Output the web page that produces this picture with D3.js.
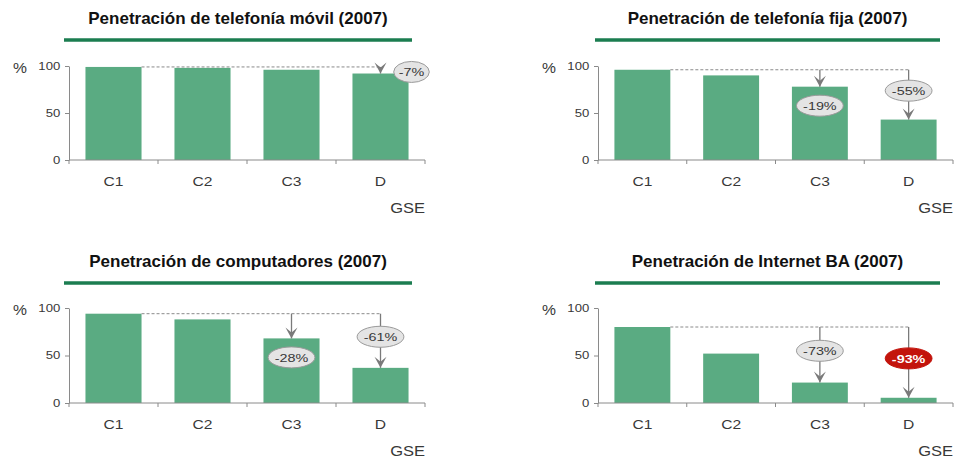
<!DOCTYPE html>
<html>
<head>
<meta charset="utf-8">
<script src="https://cdn.jsdelivr.net/npm/d3@7"></script>
<style>
  html, body { margin: 0; padding: 0; background: #fff; }
  svg { display: block; font-family: "Liberation Sans", Arial, sans-serif; }
</style>
</head>
<body>
<svg id="chart" width="959" height="461"></svg>
<script>
// Socioeconomic groups (GSE) on the x axis
const categories = ["C1", "C2", "C3", "D"];

// Panel titles
const titles = [
  "Penetración de telefonía móvil (2007)",
  "Penetración de telefonía fija (2007)",
  "Penetración de computadores (2007)",
  "Penetración de Internet BA (2007)"
];

// Penetration (%) by group, one array per panel
const movil        = [99, 98, 96, 92];
const fija         = [96, 90, 78, 43];
const computadores = [94, 88, 68, 37];
const internet     = [80, 52, 21.5, 5.5];

const yTicks = [0, 50, 100];

// Gap versus C1, per panel: category, label, bubble placement, highlighted
const gapsMovil        = [{ cat: "D",  label: "-7%",  place: "right",  alert: false }];
const gapsFija         = [{ cat: "C3", label: "-19%", place: "inside", alert: false },
                          { cat: "D",  label: "-55%", place: "mid",    alert: false }];
const gapsComputadores = [{ cat: "C3", label: "-28%", place: "inside", alert: false },
                          { cat: "D",  label: "-61%", place: "mid",    alert: false }];
const gapsInternet     = [{ cat: "C3", label: "-73%", place: "mid",    alert: false },
                          { cat: "D",  label: "-93%", place: "mid",    alert: true  }];

const series = [movil, fija, computadores, internet];
const gaps = [gapsMovil, gapsFija, gapsComputadores, gapsInternet];

// Panel frames: plot area corners and title rule
const frames = [
  { x0: 69,  x1: 425, yTop: 66,  yBase: 160, titleY: 24,  ruleY: 40,  ruleX0: 64,  ruleX1: 412 },
  { x0: 598, x1: 953, yTop: 66,  yBase: 160, titleY: 24,  ruleY: 40,  ruleX0: 595, ruleX1: 940 },
  { x0: 69,  x1: 425, yTop: 308, yBase: 403, titleY: 267, ruleY: 283, ruleX0: 64,  ruleX1: 412 },
  { x0: 598, x1: 953, yTop: 308, yBase: 403, titleY: 267, ruleY: 283, ruleX0: 595, ruleX1: 940 }
];

const BAR = "#5aab82";
const RULE = "#1b7d50";
const AXIS = "#8a8a8a";
const ARROW = "#7a7a7a";
const TEXT = "#383838";
const WIDE = 1.25;   // horizontal stretch of the small labels

const svg = d3.select("#chart");

// arrowhead pointing along +x, turned by orient="auto"
svg.append("defs").append("marker")
  .attr("id", "head")
  .attr("viewBox", "-12 -7 13 14")
  .attr("refX", 0).attr("refY", 0)
  .attr("markerWidth", 13).attr("markerHeight", 14)
  .attr("markerUnits", "userSpaceOnUse")
  .attr("orient", "auto")
  .append("path")
  .attr("d", "M0,0 L-11,-6 L-6,0 L-11,6 Z")
  .attr("fill", ARROW);

// text placed at (x, y) and widened horizontally by sx
function label(g, x, y, str, size, sx, anchor) {
  return g.append("text")
    .attr("transform", `translate(${x},${y}) scale(${sx},1)`)
    .attr("text-anchor", anchor || "middle")
    .attr("font-size", size)
    .attr("fill", TEXT)
    .text(str);
}

frames.forEach((f, i) => {
  const values = series[i];
  const g = svg.append("g");

  const x = d3.scaleBand().domain(categories).range([f.x0, f.x1]).paddingInner(0.37).paddingOuter(0.185);
  const xb = d3.scaleBand().domain(categories).range([f.x0, f.x1]);
  const y = d3.scaleLinear().domain([0, 100]).range([f.yBase, f.yTop]);

  // title and rule
  g.append("text")
    .attr("x", (f.ruleX0 + f.ruleX1) / 2).attr("y", f.titleY)
    .attr("text-anchor", "middle")
    .attr("font-size", 17).attr("font-weight", "bold").attr("fill", "#111")
    .text(titles[i]);
  g.append("line")
    .attr("x1", f.ruleX0).attr("x2", f.ruleX1)
    .attr("y1", f.ruleY).attr("y2", f.ruleY)
    .attr("stroke", RULE).attr("stroke-width", 3.5);

  // bars
  g.selectAll("rect.bar").data(values).join("rect")
    .attr("class", "bar")
    .attr("x", (d, j) => x(categories[j]))
    .attr("width", x.bandwidth())
    .attr("y", d => y(d))
    .attr("height", d => y(0) - y(d))
    .attr("fill", BAR);

  // y axis
  const ya = g.append("g")
    .attr("transform", `translate(${f.x0},0)`)
    .call(d3.axisLeft(y).tickValues(yTicks).tickSize(4).tickSizeOuter(0).tickPadding(3));
  ya.select(".domain").attr("stroke", AXIS);
  ya.selectAll(".tick line").attr("stroke", AXIS);
  ya.selectAll(".tick text")
    .attr("font-size", 10.5).attr("fill", TEXT)
    .attr("font-family", "Liberation Sans, Arial, sans-serif")
    .attr("transform", `scale(${WIDE},1)`);

  // x axis: baseline with ticks on the band boundaries
  g.append("line")
    .attr("x1", f.x0).attr("x2", f.x1)
    .attr("y1", y(0)).attr("y2", y(0))
    .attr("stroke", AXIS);
  const bounds = categories.map(c => xb(c)).concat([f.x1]);
  g.selectAll("line.xt").data(bounds).join("line")
    .attr("class", "xt")
    .attr("x1", d => d).attr("x2", d => d)
    .attr("y1", y(0)).attr("y2", y(0) + 4)
    .attr("stroke", AXIS);
  categories.forEach(c => label(g, x(c) + x.bandwidth() / 2, y(0) + 26, c, 12.5, WIDE));

  label(g, f.x0 - 49, y(100) + 7, "%", 14, 1.12);
  label(g, f.x1, y(0) + 53, "GSE", 14, 1.18, "end");

  // reference level (C1) and gap arrows
  const ref = values[0];
  const last = gaps[i][gaps[i].length - 1];
  g.append("line")
    .attr("x1", x(categories[0]) + x.bandwidth())
    .attr("x2", x(last.cat) + x.bandwidth() / 2)
    .attr("y1", y(ref)).attr("y2", y(ref))
    .attr("stroke", AXIS).attr("stroke-width", 1)
    .attr("stroke-dasharray", "3,2");

  gaps[i].forEach(a => {
    const j = categories.indexOf(a.cat);
    const cx = x(a.cat) + x.bandwidth() / 2;
    const yRef = y(ref), yBar = y(values[j]);
    g.append("line")
      .attr("x1", cx).attr("x2", cx)
      .attr("y1", yRef).attr("y2", yBar)
      .attr("stroke", ARROW).attr("stroke-width", 1.3)
      .attr("marker-end", "url(#head)");

    let bx = cx, by;
    if (a.place === "right") { bx = cx + 31; by = yRef + 5; }
    else if (a.place === "inside") { by = yBar + 19; }
    else { by = (yRef + yBar) / 2 - 4; }

    const rx = 5.6 * a.label.length + 1;
    g.append("ellipse")
      .attr("cx", bx).attr("cy", by)
      .attr("rx", rx).attr("ry", 10.5)
      .attr("fill", a.alert ? "#c3140c" : "#e4e4e4")
      .attr("stroke", a.alert ? "#c3140c" : "#9a9a9a").attr("stroke-width", 1);
    label(g, bx, by + 4.2, a.label, 11.5, WIDE)
      .attr("font-weight", a.alert ? "bold" : "normal")
      .attr("fill", a.alert ? "#fff" : TEXT);
  });
});
</script>
</body>
</html>
